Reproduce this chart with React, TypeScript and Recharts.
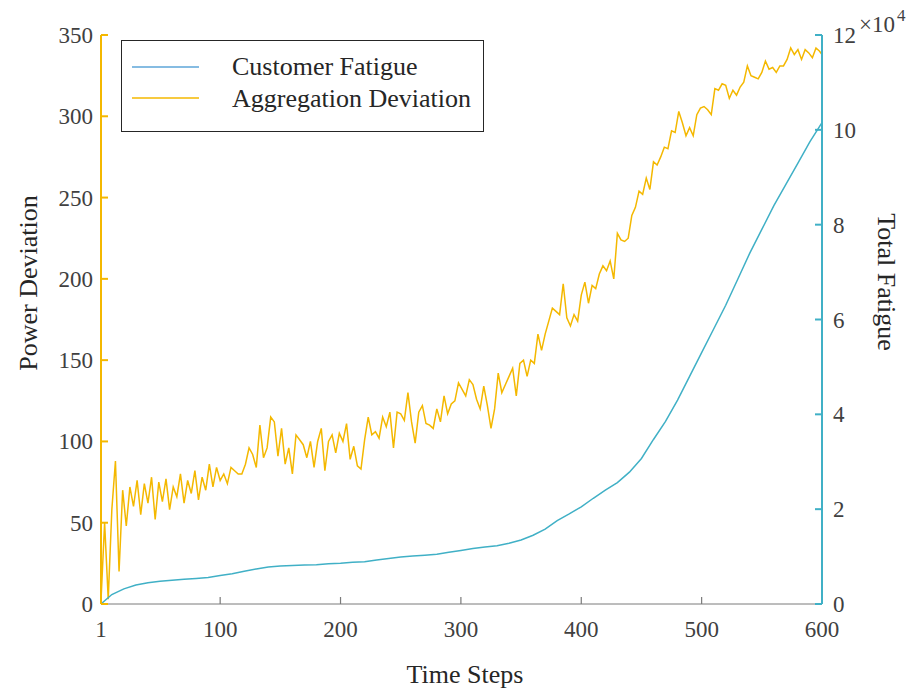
import React from 'react';
import { LineChart, Line, XAxis, YAxis } from 'recharts';

// aggregation deviation, sampled every 3 time steps (last point is step 600)
const AGG_STEP_INTERVAL = 3;
const aggregationDeviation = [
  2, 50, 3, 58, 88, 20, 70, 48, 72, 60, 76, 55, 74, 62, 78, 52, 75, 63, 77, 58,
  72, 66, 80, 62, 76, 68, 82, 64, 78, 70, 86, 72, 84, 76,
  80, 74, 84, 82, 80, 80, 86, 96, 92, 84, 110, 90, 96, 115, 112, 91, 108, 86, 96, 80,
  104, 101, 98, 90, 100, 84, 100, 108, 82, 100, 104, 93, 105,
  100, 111, 89, 97, 85, 83, 101, 115, 104, 106, 102, 115, 109, 118, 96, 118, 117, 113, 130, 112,
  99, 118, 122, 111, 110, 108, 120, 112, 128, 117, 123, 125, 136, 132,
  128, 138, 135, 126, 120, 134, 122, 108, 120, 142, 130, 135, 140, 145, 128, 148, 150, 140, 150, 148,
  166, 156, 166, 174, 182, 180, 178, 197, 176, 171, 178, 174, 190,
  198, 185, 196, 194, 203, 208, 205, 211, 200, 228, 224, 223, 225, 239, 244, 254, 252, 262, 255, 272,
  270, 275, 281, 280, 291, 290, 303, 296, 288, 293, 288, 301, 305,
  306, 304, 301, 317, 316, 320, 319, 311, 316, 313, 318, 321, 331, 325, 324, 323, 327, 334, 329, 330,
  327, 331, 331, 335, 342, 338, 341, 335, 341, 339, 336, 342, 340, 338,
];

// customer fatigue, every 10 time steps
const fatigueSteps = [
  1, 10, 20, 30, 40, 50, 60, 70, 80, 90, 100, 110, 120, 130, 140, 150, 160, 170, 180, 190, 200,
  210, 220, 230, 240, 250, 260, 270, 280, 290, 300, 310, 320, 330, 340, 350, 360, 370, 380, 390, 400,
  410, 420, 430, 440, 450, 460, 470, 480, 490, 500, 510, 520, 530, 540, 550, 560, 570, 580, 590, 600,
];
const customerFatigue = [
  0, 2000, 3200, 4000, 4500, 4800, 5000, 5200, 5400, 5600, 6000, 6400, 6900, 7400, 7800, 8000,
  8100, 8200, 8300, 8500, 8600, 8800, 8900, 9300, 9600, 9900, 10100, 10300, 10500, 10900, 11300,
  11700, 12000, 12300, 12800, 13500, 14500, 15800, 17600, 19000, 20500, 22300, 24000, 25600, 27800,
  30700, 34700, 38500, 43000, 48000, 53000, 58000, 63000, 68500, 74000, 79000, 84000, 88500, 93000,
  97500, 101500,
];

const xTicks = [1, 100, 200, 300, 400, 500, 600];
const leftTicks = [0, 50, 100, 150, 200, 250, 300, 350];
const rightTicks = [0, 20000, 40000, 60000, 80000, 100000, 120000];

const GOLD = '#F4B800';
const CYAN = '#40B0C6';
const LEGEND_BLUE = '#5EA6D8';
const GRAY = '#7a7a7a';
const TEXT = '#404040';
const FONT = '"Liberation Serif", "Times New Roman", serif';

const aggData = aggregationDeviation.map((v, i) => ({
  step: Math.min(600, 1 + AGG_STEP_INTERVAL * i),
  deviation: v,
}));
const fatigueData = fatigueSteps.map((s, i) => ({ step: s, fatigue: customerFatigue[i] }));

const LeftTick = (props: any) => {
  const { x, y, payload } = props;
  return (
    <g>
      <line x1={x} y1={y} x2={x + 7} y2={y} stroke={GOLD} strokeWidth={2} />
      <text x={x - 8} y={y} dy={8} textAnchor="end" fontSize={23} fill={TEXT} fontFamily={FONT}>
        {payload.value}
      </text>
    </g>
  );
};

const RightTick = (props: any) => {
  const { x, y, payload } = props;
  return (
    <g>
      <line x1={x} y1={y} x2={x - 7} y2={y} stroke={CYAN} strokeWidth={2} />
      <text x={x + 11} y={y} dy={8} textAnchor="start" fontSize={23} fill={TEXT} fontFamily={FONT}>
        {payload.value / 10000}
      </text>
    </g>
  );
};

const BottomTick = (props: any) => {
  const { x, y, payload } = props;
  const edge = payload.value === 1 || payload.value === 600;
  return (
    <g>
      {!edge && <line x1={x} y1={y} x2={x} y2={y - 7} stroke={GRAY} strokeWidth={1.2} />}
      <text x={x} y={y + 33} textAnchor="middle" fontSize={23} fill={TEXT} fontFamily={FONT}>
        {payload.value}
      </text>
    </g>
  );
};

export default function App() {
  return (
    <div style={{ position: 'absolute', left: 0, top: 0, width: 913, height: 688, background: '#fff' }}>
      <LineChart width={913} height={688} margin={{ top: 35, right: 31, left: 41, bottom: 34 }}>
        <XAxis
          dataKey="step"
          type="number"
          domain={[1, 600]}
          ticks={xTicks}
          allowDataOverflow
          height={50}
          stroke={GRAY}
          tickLine={false}
          tickSize={0}
          tickMargin={0}
          tick={<BottomTick />}
          label={{
            content: () => (
              <text x={465} y={683} textAnchor="middle" fontSize={26} fill="#262626" fontFamily={FONT}>
                Time Steps
              </text>
            ),
          }}
        />
        <YAxis
          yAxisId="left"
          orientation="left"
          domain={[0, 350]}
          ticks={leftTicks}
          width={60}
          axisLine={{ stroke: GOLD, strokeWidth: 2 }}
          tickLine={false}
          tickSize={0}
          tickMargin={0}
          tick={<LeftTick />}
          label={{
            content: () => (
              <text
                x={28}
                y={283}
                transform="rotate(-90 28 283)"
                textAnchor="middle"
                dominantBaseline="central"
                fontSize={26}
                fill="#262626"
                fontFamily={FONT}
              >
                Power Deviation
              </text>
            ),
          }}
        />
        <YAxis
          yAxisId="right"
          orientation="right"
          domain={[0, 120000]}
          ticks={rightTicks}
          width={60}
          axisLine={{ stroke: CYAN, strokeWidth: 2 }}
          tickLine={false}
          tickSize={0}
          tickMargin={0}
          tick={<RightTick />}
          label={{
            content: () => (
              <g>
                <text x={859} y={32} fontSize={23} fill={TEXT} fontFamily={FONT}>
                  ×10
                </text>
                <text x={897} y={21} fontSize={17} fill={TEXT} fontFamily={FONT}>
                  4
                </text>
                <text
                  x={886}
                  y={282}
                  transform="rotate(90 886 282)"
                  textAnchor="middle"
                  dominantBaseline="central"
                  fontSize={26}
                  fill="#262626"
                  fontFamily={FONT}
                >
                  Total Fatigue
                </text>
              </g>
            ),
          }}
        />
        <Line
          yAxisId="left"
          data={aggData}
          dataKey="deviation"
          type="linear"
          stroke={GOLD}
          strokeWidth={1.5}
          dot={false}
          isAnimationActive={false}
        />
        <Line
          yAxisId="right"
          data={fatigueData}
          dataKey="fatigue"
          type="linear"
          stroke={CYAN}
          strokeWidth={1.5}
          dot={false}
          isAnimationActive={false}
        />
      </LineChart>
      <div
        style={{
          position: 'absolute',
          left: 121,
          top: 40,
          width: 361,
          height: 90,
          border: '1.5px solid #262626',
          background: '#fff',
          fontFamily: FONT,
          fontSize: 26,
          color: '#262626',
        }}
      >
        <svg width={361} height={90} style={{ position: 'absolute', left: 0, top: 0 }}>
          <line x1={10} y1={26} x2={77} y2={26} stroke={LEGEND_BLUE} strokeWidth={1.5} />
          <line x1={10} y1={57} x2={77} y2={57} stroke={GOLD} strokeWidth={1.5} />
          <text x={110} y={34} fontSize={26} fill="#262626" fontFamily={FONT}>
            Customer Fatigue
          </text>
          <text x={110} y={66} fontSize={26} fill="#262626" fontFamily={FONT}>
            Aggregation Deviation
          </text>
        </svg>
      </div>
    </div>
  );
}
